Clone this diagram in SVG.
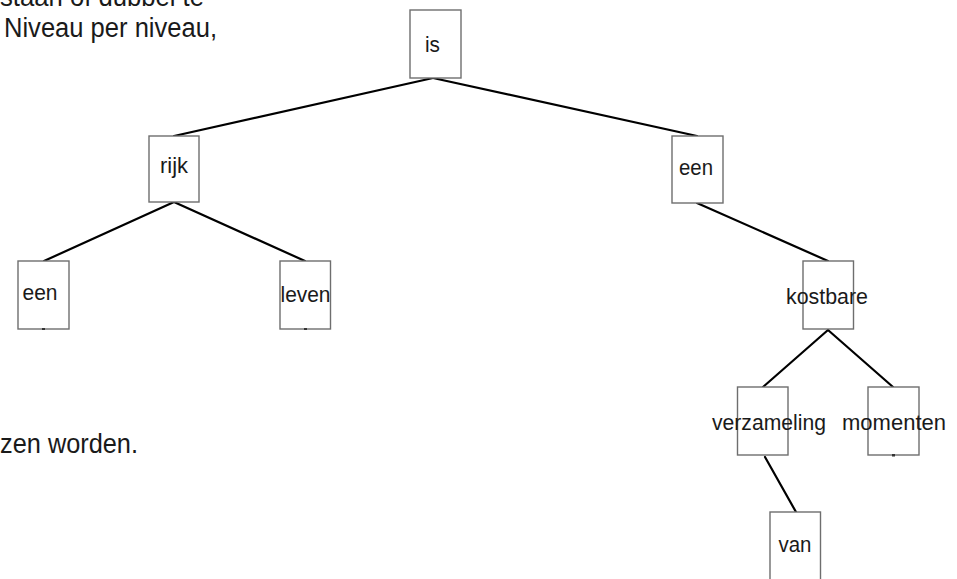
<svg xmlns="http://www.w3.org/2000/svg" width="957" height="579" viewBox="0 0 957 579">
  <style>
    .box { fill: #ffffff; stroke: #6e6e6e; stroke-width: 1.4; }
    .lbl { font-family: "Liberation Sans", Arial, sans-serif; font-size: 22.5px; fill: #1a1a1a; }
    .prose { font-family: "Liberation Sans", Arial, sans-serif; font-size: 27px; fill: #1a1a1a; }
    .edge { stroke: #000000; stroke-width: 2.2; fill: none; stroke-linecap: round; }
    .tick { fill: #333333; }
  </style>
  <rect width="957" height="579" fill="#ffffff"/>

  <!-- surrounding prose lines -->
  <text class="prose" x="204" y="6" text-anchor="end" textLength="204" lengthAdjust="spacingAndGlyphs">staan of dubbel te</text>
  <text class="prose" x="4" y="37" textLength="213" lengthAdjust="spacingAndGlyphs">Niveau per niveau,</text>
  <text class="prose" x="0" y="453" textLength="138" lengthAdjust="spacingAndGlyphs">zen worden.</text>

  <!-- tree edges -->
  <g id="edges">
    <line class="edge" x1="433" y1="78" x2="174" y2="136"/>
    <line class="edge" x1="433" y1="78" x2="697" y2="136"/>
    <line class="edge" x1="174" y1="202" x2="44" y2="261"/>
    <line class="edge" x1="174" y1="202" x2="305" y2="261"/>
    <line class="edge" x1="697" y1="203" x2="828" y2="261"/>
    <line class="edge" x1="828" y1="330" x2="763" y2="387"/>
    <line class="edge" x1="828" y1="330" x2="893" y2="387"/>
    <line class="edge" x1="765" y1="457" x2="796" y2="512"/>
  </g>

  <g id="node-is">
    <rect class="box" x="410" y="10" width="51" height="68"/>
    <text class="lbl" x="425" y="52" textLength="15" lengthAdjust="spacingAndGlyphs">is</text>
  </g>
  <g id="node-rijk">
    <rect class="box" x="149" y="136" width="50" height="66"/>
    <text class="lbl" x="160" y="173" textLength="28" lengthAdjust="spacingAndGlyphs">rijk</text>
  </g>
  <g id="node-een-right">
    <rect class="box" x="672" y="136" width="51" height="67"/>
    <text class="lbl" x="679" y="175" textLength="34" lengthAdjust="spacingAndGlyphs">een</text>
  </g>
  <g id="node-een-left">
    <rect class="box" x="18" y="261" width="51" height="68"/>
    <text class="lbl" x="22.5" y="300" textLength="35" lengthAdjust="spacingAndGlyphs">een</text>
    <rect class="tick" x="42" y="328" width="3" height="2"/>
  </g>
  <g id="node-leven">
    <rect class="box" x="280" y="261" width="50.5" height="68"/>
    <text class="lbl" x="280.5" y="302" textLength="50" lengthAdjust="spacingAndGlyphs">leven</text>
    <rect class="tick" x="304" y="328" width="3" height="2"/>
  </g>
  <g id="node-kostbare">
    <rect class="box" x="803" y="261" width="50.5" height="68"/>
    <text class="lbl" x="786" y="304" textLength="82" lengthAdjust="spacingAndGlyphs">kostbare</text>
  </g>
  <g id="node-verzameling">
    <rect class="box" x="737.5" y="387" width="50.5" height="68"/>
    <text class="lbl" x="712" y="430" textLength="114" lengthAdjust="spacingAndGlyphs">verzameling</text>
  </g>
  <g id="node-momenten">
    <rect class="box" x="868" y="387" width="51" height="68"/>
    <text class="lbl" x="842" y="430" textLength="104" lengthAdjust="spacingAndGlyphs">momenten</text>
    <rect class="tick" x="892" y="454" width="3" height="2.5"/>
  </g>
  <g id="node-van">
    <rect class="box" x="770" y="512" width="50.5" height="80"/>
    <text class="lbl" x="778.5" y="552" textLength="33" lengthAdjust="spacingAndGlyphs">van</text>
  </g>
</svg>
